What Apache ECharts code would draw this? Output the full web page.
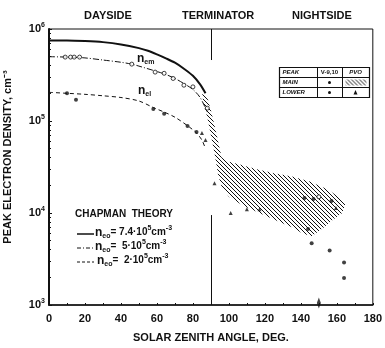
<!DOCTYPE html>
<html>
<head>
<meta charset="utf-8">
<script src="https://cdn.jsdelivr.net/npm/echarts@6/dist/echarts.min.js"></script>
<style>
  html, body { margin: 0; padding: 0; background: #fff; }
  #chart { width: 385px; height: 348px; }
</style>
</head>
<body>
<div id="chart"></div>
<script>
// Chapman theory curves (solar zenith angle, deg -> peak density, cm^-3)
const solidDeg = [0, 10, 20, 30, 40, 50, 55, 60, 65, 70, 75, 80, 84, 87];
const solidVal = [7.5e5, 7.5e5, 7.4e5, 7.2e5, 6.8e5, 6.2e5, 5.8e5, 5.3e5, 4.8e5, 4.3e5, 3.7e5, 3.1e5, 2.5e5, 2.0e5];
const dashDotDeg = [0, 10, 20, 30, 40, 46, 50, 60, 65, 70, 75, 80, 84, 88];
const dashDotVal = [5.0e5, 4.95e5, 4.85e5, 4.6e5, 4.35e5, 4.15e5, 3.95e5, 3.45e5, 3.2e5, 2.9e5, 2.55e5, 2.2e5, 1.8e5, 1.25e5];
const dashedDeg = [0, 10, 20, 30, 40, 50, 58, 64, 70, 78, 82, 85, 87];
const dashedVal = [2.05e5, 2.0e5, 1.95e5, 1.88e5, 1.8e5, 1.65e5, 1.4e5, 1.25e5, 1.1e5, 8.6e4, 7.4e4, 6.2e4, 5.0e4];

// V-9,10 main peak (open circles)
const mainDeg = [9, 12, 14, 17, 46, 59, 64, 69, 75, 80, 88, 150];
const mainVal = [4.95e5, 4.95e5, 4.95e5, 4.95e5, 4.15e5, 3.4e5, 3.3e5, 2.9e5, 2.45e5, 2.35e5, 1.38e5, 1.5e4];
// V-9,10 lower peak (dots)
const lowerDeg = [10, 15, 58, 64, 77, 82, 142, 147, 157, 144, 146, 156, 164, 164];
const lowerVal = [2.0e5, 1.7e5, 1.35e5, 1.2e5, 8.8e4, 7.6e4, 1.46e4, 1.42e4, 1.35e4, 6.7e3, 4.7e3, 3.9e3, 2.9e3, 1.96e3];
// PVO lower peak (triangles)
const pvoLowDeg = [85, 87, 92, 101, 110, 117, 159.5];
const pvoLowVal = [7.4e4, 6.2e4, 2.1e4, 1.0e4, 1.1e4, 1.1e4, 1.13e4];
const limitDeg = [150];
const limitVal = [1.05e3];
// PVO main peak range (hatched area outline)
const hatchDeg = [85, 88, 90, 92, 94, 96, 100, 105, 115, 125, 135, 145, 155, 162, 165,
  163, 158, 152, 146, 141, 135, 125, 117, 108, 100, 96, 94, 92, 90, 88, 86];
const hatchVal = [2.1e5, 1.8e5, 1.3e5, 9e4, 6e4, 4e4, 3.6e4, 3.4e4, 3.0e4, 2.7e4, 2.5e4, 2.2e4, 1.8e4, 1.45e4, 1.3e4,
  1.0e4, 8.5e3, 6.8e3, 5.6e3, 6.0e3, 7.0e3, 8.5e3, 1.0e4, 1.2e4, 1.5e4, 1.9e4, 2.6e4, 4.5e4, 7e4, 1.1e5, 1.5e5];

const xTicks = [0, 20, 40, 60, 80, 100, 120, 140, 160, 180];

function pairs(xs, ys) {
  return xs.map((x, i) => [x, ys[i]]);
}

// diagonal hatch pattern
const pat = document.createElement('canvas');
pat.width = 4;
pat.height = 4;
const pc = pat.getContext('2d');
pc.strokeStyle = '#111';
pc.lineWidth = 1;
pc.beginPath();
pc.moveTo(-1, -1); pc.lineTo(5, 5);
pc.moveTo(3, -1); pc.lineTo(5, 1);
pc.moveTo(-1, 3); pc.lineTo(1, 5);
pc.stroke();
const hatchFill = { image: pat, repeat: 'repeat' };

const font = 'Liberation Sans';
const myChart = echarts.init(document.getElementById('chart'));

// rich styles for the n_e0 = ... legend lines
const eqRich = {
  n: { font: 'bold 12px ' + font, fill: '#111' },
  s: { font: 'bold 7px ' + font, fill: '#111', padding: [7, 0, 0, 0] },
  t: { font: 'bold 10px ' + font, fill: '#111' },
  p: { font: 'bold 7px ' + font, fill: '#111', padding: [0, 0, 8, 0] }
};
const nRich = {
  n: { font: 'bold 12px ' + font, fill: '#111' },
  s: { font: 'bold 7px ' + font, fill: '#111', padding: [7, 0, 0, 0] }
};

const option = {
  animation: false,
  grid: {
    left: 49,
    right: 2,
    top: 29,
    bottom: 43,
    show: true,
    borderColor: '#111',
    borderWidth: 1
  },
  xAxis: {
    type: 'value',
    min: 0,
    max: 180,
    interval: 20,
    axisLine: { lineStyle: { color: '#111', width: 1.5 } },
    axisTick: { inside: true, length: 2, lineStyle: { color: '#111' } },
    minorTick: { show: true, splitNumber: 2, length: 2, lineStyle: { color: '#111' } },
    splitLine: { show: false },
    axisLabel: {
      color: '#111',
      fontFamily: font,
      fontWeight: 'bold',
      fontSize: 11,
      margin: 8,
      formatter: v => (xTicks.indexOf(v) >= 0 ? String(v) : '')
    },
    name: 'SOLAR ZENITH ANGLE, DEG.',
    nameLocation: 'middle',
    nameGap: 27,
    nameTextStyle: { color: '#111', fontFamily: font, fontWeight: 'bold', fontSize: 11 }
  },
  yAxis: {
    type: 'log',
    logBase: 10,
    min: 1e3,
    max: 1e6,
    axisLine: { show: true, lineStyle: { color: '#111', width: 2 } },
    axisTick: { inside: true, length: 3, lineStyle: { color: '#111' } },
    minorTick: { show: true, splitNumber: 9, length: 2, lineStyle: { color: '#111' } },
    splitLine: { show: false },
    axisLabel: {
      color: '#111',
      margin: 4,
      formatter: v => '{b|10}{s|' + Math.round(Math.log10(v)) + '}',
      rich: {
        b: { fontFamily: font, fontWeight: 'bold', fontSize: 11 },
        s: { fontFamily: font, fontWeight: 'bold', fontSize: 7, padding: [0, 0, 8, 0] }
      }
    }
  },
  graphic: [
    { type: 'text', left: 84, top: 10, style: { text: 'DAYSIDE', fill: '#111', font: 'bold 11px ' + font } },
    { type: 'text', left: 182, top: 10, style: { text: 'TERMINATOR', fill: '#111', font: 'bold 11px ' + font } },
    { type: 'text', left: 292, top: 10, style: { text: 'NIGHTSIDE', fill: '#111', font: 'bold 11px ' + font } },
    {
      type: 'text', x: 8, y: 157, rotation: Math.PI / 2,
      style: { text: 'PEAK ELECTRON DENSITY, cm⁻³', fill: '#111', font: 'bold 11px ' + font, align: 'center', verticalAlign: 'middle' }
    },
    // n labels on curves
    { type: 'text', left: 137, top: 53, style: { text: '{n|n}{s|em}', rich: nRich } },
    { type: 'text', left: 138, top: 85, style: { text: '{n|n}{s|el}', rich: nRich } },
    // Chapman legend
    { type: 'text', left: 75, top: 209, style: { text: 'CHAPMAN  THEORY', fill: '#111', font: 'bold 10px ' + font } },
    { type: 'line', shape: { x1: 77, y1: 234, x2: 94, y2: 234 }, style: { stroke: '#111', lineWidth: 1.5 } },
    { type: 'line', shape: { x1: 77, y1: 248, x2: 94, y2: 248 }, style: { stroke: '#111', lineWidth: 1, lineDash: [4, 2, 1, 2] } },
    { type: 'line', shape: { x1: 77, y1: 262, x2: 94, y2: 262 }, style: { stroke: '#111', lineWidth: 1, lineDash: [3, 2] } },
    { type: 'text', left: 95, top: 225, style: { text: '{n|n}{s|eo}{t|= 7.4·10}{p|5}{t|cm}{p|-3}', rich: eqRich } },
    { type: 'text', left: 95, top: 239, style: { text: '{n|n}{s|eo}{t|=  5·10}{p|5}{t|cm}{p|-3}', rich: eqRich } },
    { type: 'text', left: 97, top: 253, style: { text: '{n|n}{s|eo}{t|=  2·10}{p|5}{t|cm}{p|-3}', rich: eqRich } },
    // symbol table
    {
      type: 'group', left: 277, top: 65,
      children: [
        { type: 'rect', shape: { x: 0, y: 0, width: 90, height: 30 }, style: { fill: '#fff', stroke: '#111', lineWidth: 1.2 } },
        { type: 'line', shape: { x1: 0, y1: 10, x2: 90, y2: 10 }, style: { stroke: '#111', lineWidth: 1 } },
        { type: 'line', shape: { x1: 0, y1: 20, x2: 90, y2: 20 }, style: { stroke: '#111', lineWidth: 1 } },
        { type: 'line', shape: { x1: 38, y1: 0, x2: 38, y2: 30 }, style: { stroke: '#111', lineWidth: 1 } },
        { type: 'line', shape: { x1: 63, y1: 0, x2: 63, y2: 30 }, style: { stroke: '#111', lineWidth: 1 } },
        { type: 'rect', shape: { x: 66, y: 12, width: 21, height: 6 }, style: { fill: hatchFill } },
        { type: 'text', x: 3, y: 5, style: { text: 'PEAK', fill: '#111', font: 'italic bold 6px ' + font, verticalAlign: 'middle' } },
        { type: 'text', x: 3, y: 15, style: { text: 'MAIN', fill: '#111', font: 'italic bold 6px ' + font, verticalAlign: 'middle' } },
        { type: 'text', x: 3, y: 25, style: { text: 'LOWER', fill: '#111', font: 'italic bold 6px ' + font, verticalAlign: 'middle' } },
        { type: 'text', x: 50, y: 5, style: { text: 'V-9,10', fill: '#111', font: 'bold 6px ' + font, align: 'center', verticalAlign: 'middle' } },
        { type: 'text', x: 76, y: 5, style: { text: 'PVO', fill: '#111', font: 'italic bold 6px ' + font, align: 'center', verticalAlign: 'middle' } },
        { type: 'circle', shape: { cx: 50, cy: 15, r: 1.5 }, style: { fill: '#111' } },
        { type: 'circle', shape: { cx: 50, cy: 25, r: 1.5 }, style: { fill: '#111' } },
        { type: 'polygon', shape: { points: [[76, 22.5], [78, 27], [74, 27]] }, style: { fill: '#111' } }
      ]
    }
  ],
  series: [
    {
      name: 'PVO main',
      type: 'custom',
      data: [[0]],
      renderItem: function (params, api) {
        const pts = hatchDeg.map((d, i) => api.coord([d, hatchVal[i]]));
        return { type: 'polygon', shape: { points: pts }, style: { fill: hatchFill, stroke: null } };
      },
      silent: true,
      z: 1
    },
    {
      name: 'ne0 7.4e5',
      type: 'line',
      data: pairs(solidDeg, solidVal),
      showSymbol: false,
      smooth: 0.3,
      lineStyle: { color: '#111', width: 2 },
      markLine: {
        symbol: 'none',
        silent: true,
        label: { show: false },
        lineStyle: { color: '#111', width: 1, type: 'solid' },
        data: [
          [{ coord: [90, 1e6] }, { coord: [90, 4.6e5] }],
          [{ coord: [90, 9.5e3] }, { coord: [90, 1e3] }]
        ]
      },
      z: 3
    },
    {
      name: 'ne0 5e5',
      type: 'line',
      data: pairs(dashDotDeg, dashDotVal),
      showSymbol: false,
      smooth: 0.3,
      lineStyle: { color: '#111', width: 1, type: [6, 2, 1, 2] },
      z: 3
    },
    {
      name: 'ne0 2e5',
      type: 'line',
      data: pairs(dashedDeg, dashedVal),
      showSymbol: false,
      smooth: 0.3,
      lineStyle: { color: '#111', width: 1, type: [4, 3] },
      z: 3
    },
    {
      name: 'V-9,10 main',
      type: 'scatter',
      data: pairs(mainDeg, mainVal),
      symbol: 'circle',
      symbolSize: 4,
      itemStyle: { color: '#fff', borderColor: '#111', borderWidth: 1 },
      z: 4
    },
    {
      name: 'V-9,10 lower',
      type: 'scatter',
      data: pairs(lowerDeg, lowerVal),
      symbol: 'circle',
      symbolSize: 4,
      itemStyle: { color: '#111' },
      z: 4
    },
    {
      name: 'PVO lower',
      type: 'scatter',
      data: pairs(pvoLowDeg, pvoLowVal),
      symbol: 'triangle',
      symbolSize: 4,
      itemStyle: { color: '#111' },
      z: 4
    },
    {
      name: 'limit',
      type: 'scatter',
      data: pairs(limitDeg, limitVal),
      symbol: 'diamond',
      symbolSize: [4, 11],
      itemStyle: { color: '#111' },
      z: 4
    }
  ]
};

myChart.setOption(option);
</script>
</body>
</html>
